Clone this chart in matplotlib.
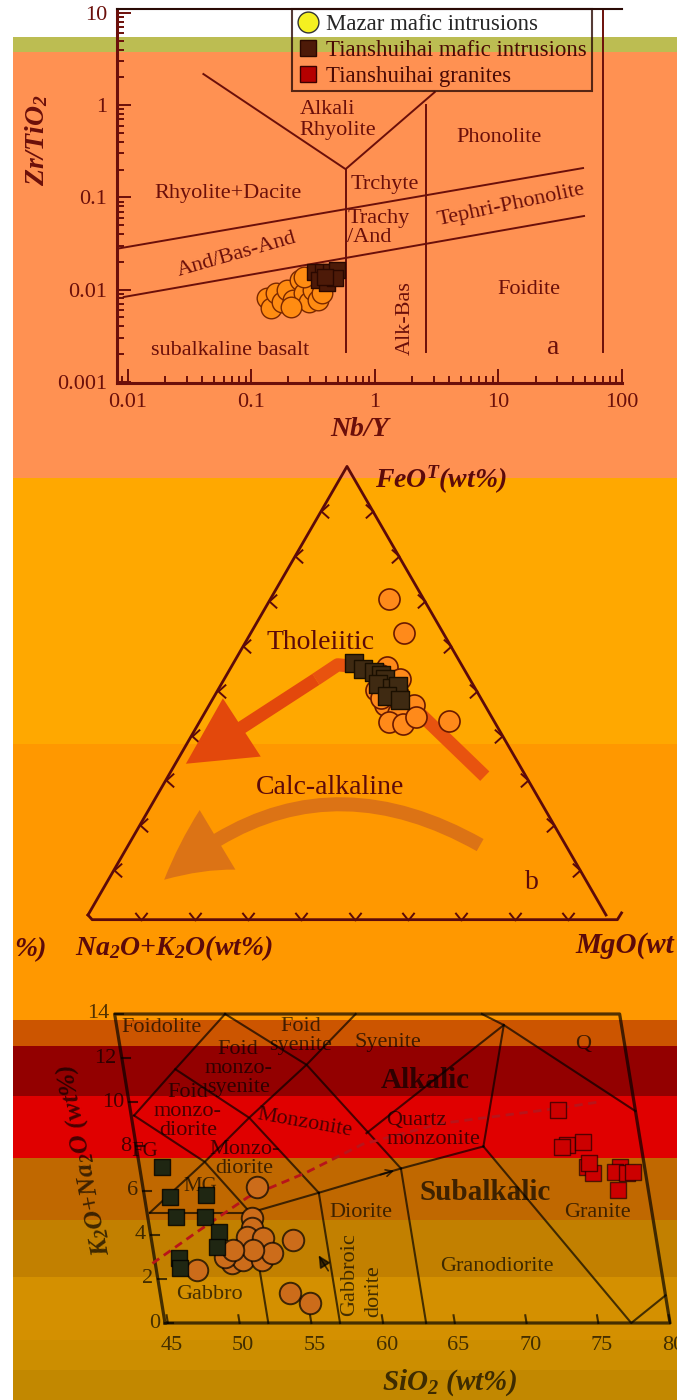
import numpy as np
import matplotlib
matplotlib.use("Agg")
import matplotlib.pyplot as plt
from matplotlib.lines import Line2D
from matplotlib.patches import Rectangle, FancyArrowPatch
from matplotlib.transforms import Affine2D
from matplotlib.path import Path

plt.rcParams['font.family'] = ['Liberation Serif', 'DejaVu Serif']
plt.rcParams['mathtext.fontset'] = 'custom'
for key in ('rm', 'it', 'bf'):
    plt.rcParams['mathtext.' + key] = 'Liberation Serif:italic:bold'

# ---------------- data ----------------
# (a) Winchester & Floyd  Zr/TiO2 vs Nb/Y
a_mazar_nby = [0.135, 0.145, 0.159, 0.178, 0.195, 0.218, 0.248, 0.267, 0.294, 0.316, 0.347, 0.374, 0.267, 0.21]
a_mazar_zr = [0.0081, 0.0063, 0.0092, 0.0073, 0.0099, 0.0077, 0.0127, 0.0092, 0.0073, 0.0099, 0.0077, 0.0092, 0.0137, 0.0065]
a_tsh_nby = [0.328, 0.38, 0.44, 0.49, 0.354, 0.41, 0.476, 0.395]
a_tsh_zr = [0.0155, 0.0155, 0.0155, 0.0163, 0.0127, 0.0118, 0.0133, 0.0137]
wf_lines = [
    ([0.0086, 48.4], [0.028, 0.2075]),
    ([0.0093, 49.3], [0.0083, 0.0627]),
    ([0.041, 0.58, 3.05], [2.17, 0.202, 1.38]),
    ([0.58, 0.58], [0.202, 0.0021]),
    ([2.6, 2.6], [1.0, 0.0021]),
    ([70, 70], [10.5, 0.0021]),
]

# (b) AFM ternary, fractions (Na2O+K2O, FeOT, MgO)
b_mazar_A = [0.067, 0.075, 0.087, 0.146, 0.167, 0.161, 0.135, 0.193, 0.155, 0.137, 0.193, 0.177, 0.204, 0.179, 0.146, 0.192]
b_mazar_F = [0.704, 0.629, 0.432, 0.553, 0.535, 0.515, 0.526, 0.502, 0.493, 0.468, 0.468, 0.450, 0.430, 0.426, 0.441, 0.484]
b_mazar_M = [0.229, 0.296, 0.481, 0.301, 0.298, 0.324, 0.339, 0.305, 0.352, 0.395, 0.339, 0.373, 0.366, 0.395, 0.413, 0.324]
b_tsh_A = [0.205, 0.195, 0.177, 0.167, 0.164, 0.182, 0.160, 0.147, 0.179, 0.158]
b_tsh_F = [0.562, 0.548, 0.542, 0.535, 0.526, 0.515, 0.506, 0.510, 0.488, 0.479]
b_tsh_M = [0.233, 0.257, 0.281, 0.298, 0.310, 0.303, 0.334, 0.343, 0.333, 0.363]

# (c) TAS (Middlemost 1994)
c_mazar_si = [52.75, 52.03, 51.93, 51.48, 52.58, 54.65, 50.14, 50.94, 52.26, 53.04, 49.72, 47.62, 53.84, 55.13, 51.75, 50.35]
c_mazar_alk = [6.15, 4.75, 4.30, 3.89, 3.85, 3.76, 2.71, 2.85, 2.85, 3.17, 2.99, 2.40, 1.36, 0.90, 3.30, 3.30]
c_tsh_si = [46.35, 46.57, 46.76, 49.10, 48.78, 49.58, 49.28, 46.50, 46.46]
c_tsh_alk = [7.06, 5.70, 4.80, 5.79, 4.80, 4.12, 3.44, 2.94, 2.49]
c_gr_si = [74.6, 74.83, 75.98, 74.45, 75.97, 76.32, 78.27, 77.86, 78.69, 79.1, 77.87, 76.2]
c_gr_alk = [9.64, 8.05, 8.19, 7.96, 7.06, 6.79, 7.06, 6.83, 6.79, 6.83, 6.02, 7.24]
tas_lines = [
    [(45, 5), (52, 5)],
    [(52, 0), (52, 5)],
    [(57, 0), (57, 5.9)],
    [(63, 0), (63, 7)],
    [(52, 5), (57, 5.9), (63, 7), (69, 8)],
    [(69, 8), (77.3, 0), (80, 1.25)],
    [(45, 5), (49.4, 7.3), (52, 5)],
    [(45, 9.4), (49.4, 7.3), (53, 9.3), (57, 5.9)],
    [(48.4, 11.5), (53, 9.3), (57.6, 11.7), (63, 7)],
    [(45, 9.4), (48.4, 11.5), (52.5, 14)],
    [(52.5, 14), (57.6, 11.7), (61.6, 14)],
    [(61, 8.6), (71.8, 13.5)],
    [(69, 8), (71.8, 13.5), (70.4, 14)],
    [(71.8, 13.5), (80, 9.6)],
]
ib_si = [44.6, 48, 52, 56.3, 60.6, 66.4, 74.3, 77.4]
ib_alk = [2.7, 4.1, 5.7, 6.8, 8.1, 9.05, 9.7, 10.0]

# ---------------- figure ----------------
W, H = 691, 1400
fig = plt.figure(figsize=(W / 100, H / 100), dpi=100)


def fx(px):
    return px / W


def fy(py):
    return 1 - py / H


band_edges = [0, 37, 52, 478, 744, 1020, 1046, 1096, 1158, 1220, 1277, 1340, 1370, 1400]
band_colors = ['#ffffff', '#bcbd52', '#ff9152', '#ffa800', '#ff9800', '#cc5500', '#930000',
               '#e00000', '#c06800', '#c28000', '#d49000', '#cc8e00', '#c28800']
for top, bot, col in zip(band_edges[:-1], band_edges[1:], band_colors):
    fig.add_artist(Rectangle((fx(13), fy(bot)), fx(677) - fx(13), (bot - top) / H,
                             transform=fig.transFigure, color=col, lw=0, zorder=-10))

RED = '#6b0f0a'
bi = dict(fontweight='bold', style='italic')

# ---------------- panel a ----------------
axa = fig.add_axes([fx(117), fy(383), fx(622) - fx(117), (383 - 9) / H])
axa.set_facecolor('none')
axa.set_xscale('log')
axa.set_yscale('log')
for xs, ys in wf_lines:
    axa.plot(xs, ys, color=RED, lw=1.4, zorder=2)
axa.scatter(a_mazar_nby, a_mazar_zr, s=220, marker='o', fc='#ff8c12', ec='#7a2800', lw=1.0, zorder=5)
axa.scatter(a_tsh_nby, a_tsh_zr, s=130, marker='s', fc='#4d1a08', ec='#2a0800', lw=1.0, zorder=6)
axa.set_xlim(0.0082, 96.4)
axa.set_ylim(0.00097, 11.0)
axa.set_xticks([0.01, 0.1, 1, 10, 100])
axa.set_xticklabels(['0.01', '0.1', '1', '10', '100'])
axa.set_yticks([0.001, 0.01, 0.1, 1, 10])
axa.set_yticklabels(['0.001', '0.01', '0.1', '1', '10'])
axa.tick_params(which='both', direction='in', colors=RED, labelsize=16, width=1.4,
                top=False, right=False)
axa.tick_params(which='major', length=10, pad=7)
axa.tick_params(which='minor', length=5)
axa.spines['right'].set_visible(False)
for sp in ('left', 'bottom'):
    axa.spines[sp].set_color(RED)
    axa.spines[sp].set_linewidth(2.2)
axa.spines['top'].set_color('#2a0a05')
axa.spines['top'].set_linewidth(1.5)

ta = dict(color=RED, fontsize=16, ha='center', va='center')
axa.text(0.245, 0.69, 'Alkali\nRhyolite', ha='left', va='center', color=RED, fontsize=16, linespacing=1.1)
axa.text(10.2, 0.44, 'Phonolite', **ta)
axa.text(0.0653, 0.111, 'Rhyolite+Dacite', **ta)
axa.text(1.2, 0.136, 'Trchyte', **ta)
axa.text(0.60, 0.046, 'Trachy\n/And', ha='left', va='center', color=RED, fontsize=16, linespacing=1.0)
axa.text(12.7, 0.0824, 'Tephri-Phonolite', rotation=12, **ta)
axa.text(0.0757, 0.0237, 'And/Bas-And', rotation=16, **ta)
axa.text(17.5, 0.0099, 'Foidite', **ta)
axa.text(1.78, 0.0049, 'Alk-Bas', rotation=90, **ta)
axa.text(0.0677, 0.0022, 'subalkaline basalt', **ta)
axa.text(27.8, 0.00238, 'a', color=RED, fontsize=20, ha='center', va='center')
fig.text(fx(360), fy(430), 'Nb/Y', fontsize=20, color=RED, ha='center', va='center', **bi)
fig.text(fx(37), fy(140), 'Zr/TiO$_2$', fontsize=20, color=RED, rotation=90, ha='center', va='center', **bi)

handles = [
    Line2D([], [], ls='none', marker='o', ms=15, mfc='#f5f020', mec='#333333', mew=1.0),
    Line2D([], [], ls='none', marker='s', ms=11, mfc='#4d1a08', mec='#2a0800', mew=1.0),
    Line2D([], [], ls='none', marker='s', ms=11, mfc='#b50000', mec='#3a0000', mew=1.0),
]
labels = ['Mazar mafic intrusions', 'Tianshuihai mafic intrusions', 'Tianshuihai granites']
leg = fig.legend(handles, labels, loc='upper left', bbox_to_anchor=(fx(292), fy(9)),
                 bbox_transform=fig.transFigure, fontsize=16.5, frameon=True, fancybox=False,
                 edgecolor='#2a0a05', facecolor='none', borderpad=0.2, labelspacing=0.22,
                 handletextpad=0.3, handlelength=1.0, borderaxespad=0)
leg.get_frame().set_linewidth(1.5)
for t, c in zip(leg.get_texts(), ['#262626', '#4a0a05', '#4a0a05']):
    t.set_color(c)

# ---------------- panel b ----------------
TRI = '#5c0a0a'
h3 = np.sqrt(3) / 2
axb = fig.add_axes([fx(88), fy(915), 518 / W, 518 * h3 / H])
axb.set_xlim(0, 1)
axb.set_ylim(0, h3)
axb.axis('off')


def tern(a, f, m):
    a, f, m = np.asarray(a), np.asarray(f), np.asarray(m)
    s = a + f + m
    return m / s + f / s / 2, f / s * h3


axb.plot([0, 0.5, 1], [0, h3, 0], color=TRI, lw=2.0, clip_on=False)
base_end = 1.03
axb.plot([0.0, 0.008, base_end - 0.008, base_end], [0.0, -0.009, -0.009, 0.004],
         color=TRI, lw=2.0, clip_on=False)
fr = np.arange(1, 10) / 10
chev_l = Path([(1, 0.9), (0, 0), (1, -0.9)], [Path.MOVETO, Path.LINETO, Path.LINETO])
chev_r = Path([(-1, 0.9), (0, 0), (-1, -0.9)], [Path.MOVETO, Path.LINETO, Path.LINETO])
chev_b = Path([(-0.8, 1), (0, 0), (0.8, 1)], [Path.MOVETO, Path.LINETO, Path.LINETO])
mk = dict(ls='none', ms=11, mfc='none', mec=TRI, mew=1.4, clip_on=False)
axb.plot(fr / 2, fr * h3, marker=chev_l, **mk)
axb.plot(1 - fr / 2, fr * h3, marker=chev_r, **mk)
axb.plot(fr * base_end, np.full(9, -0.009), marker=chev_b, **mk)

thol_x = [0.766, 0.624, 0.524, 0.482, 0.440]
thol_y = [0.268, 0.405, 0.479, 0.483, 0.455]
axb.plot(thol_x, thol_y, color='#e8530f', lw=9.5, solid_joinstyle='round', solid_capstyle='butt', zorder=2)
axb.add_patch(FancyArrowPatch((0.440, 0.455), (0.189, 0.292),
                              arrowstyle='simple,head_length=2.4,head_width=2.5,tail_width=0.47',
                              mutation_scale=20, color='#e3480c', lw=0, shrinkA=0, shrinkB=0, zorder=2))
axb.add_patch(FancyArrowPatch((0.757, 0.135), (0.147, 0.068), connectionstyle='arc3,rad=0.36',
                              arrowstyle='simple,head_length=2.4,head_width=2.5,tail_width=0.5',
                              mutation_scale=20, color='#dc7315', lw=0, shrinkA=0, shrinkB=0, zorder=2))

mx, my = tern(b_mazar_A, b_mazar_F, b_mazar_M)
axb.scatter(mx, my, s=230, marker='o', fc='#ff8a1a', ec='#6b1a00', lw=1.2, zorder=5)
sx, sy = tern(b_tsh_A, b_tsh_F, b_tsh_M)
axb.scatter(sx, sy, s=170, marker='s', fc='#3f2a12', ec='#1a0f00', lw=1.0, zorder=6)

axb.text(0.448, 0.527, 'Tholeiitic', color=TRI, fontsize=20, ha='center', va='center')
axb.text(0.467, 0.247, 'Calc-alkaline', color=TRI, fontsize=20, ha='center', va='center')
axb.text(0.857, 0.062, 'b', color=TRI, fontsize=20, ha='center', va='center')
axb.text(0.554, 0.840, 'FeO$^{T}$(wt%)', color=TRI, fontsize=20, ha='left', va='center', **bi)
axb.text(-0.025, -0.064, 'Na$_2$O+K$_2$O(wt%)', color=TRI, fontsize=20, ha='left', va='center', **bi)
axb.text(0.940, -0.058, 'MgO(wt', color=TRI, fontsize=21, ha='left', va='center', **bi)
fig.text(fx(14), fy(950), '%)', color=TRI, fontsize=20, ha='left', va='center', **bi)

# ---------------- panel c (sheared) ----------------
axc = fig.add_axes([fx(165), 77 / H, fx(670) - fx(165), 309 / H])
axc.axis('off')
axc.set_xlim(44.8, 80)
axc.set_ylim(0, 14)
axc.set_autoscale_on(False)
k = 0.163
shear = Affine2D(np.array([[1, -k, k * 77], [0, 1, 0], [0, 0, 1]]))
tc = axc.transData + shear
LC = (0, 0, 0, 0.68)
ln = dict(transform=tc, clip_on=False)

axc.plot([44.8, 80, 80, 44.8, 44.8], [0, 0, 14, 14, 0], color=LC, lw=2.3, **ln)
for xt in range(45, 81, 5):
    axc.plot([xt, xt], [0, 0.35], color=LC, lw=1.5, **ln)
    axc.text(xt, -1.0, str(xt), color=LC, fontsize=16, ha='center', va='center', **ln)
for yt in range(0, 15, 2):
    axc.plot([44.8, 45.35], [yt, yt], color=LC, lw=1.5, **ln)
    axc.text(44.45, yt, str(yt), color=LC, fontsize=16, ha='right', va='center', **ln)
for seg in tas_lines:
    xs, ys = zip(*seg)
    axc.plot(xs, ys, color=LC, lw=1.5, **ln)
axc.plot(ib_si, ib_alk, color='#b8141a', lw=2.0, ls=(0, (3, 2)), **ln)
axc.annotate('', xy=(56.2, 3.17), xytext=(56.85, 2.26), xycoords=tc, textcoords=tc,
             arrowprops=dict(arrowstyle='-|>', color=LC, lw=1.2, mutation_scale=18))
axc.annotate('', xy=(62.7, 6.94), xytext=(61.3, 6.68), xycoords=tc, textcoords=tc,
             arrowprops=dict(arrowstyle='->', color=LC, lw=1.2, mutation_scale=12))

axc.scatter(c_mazar_si, c_mazar_alk, s=240, marker='o', fc='#cc6c1a', ec=(0, 0, 0, 0.7), lw=1.4, zorder=5, **ln)
axc.scatter(c_tsh_si, c_tsh_alk, s=135, marker='s', fc='#1f2612', ec=(0, 0, 0, 0.8), lw=1.0, zorder=6, **ln)
axc.scatter(c_gr_si, c_gr_alk, s=135, marker='s', fc='#cc0000', ec=(0, 0, 0, 0.6), lw=1.0, zorder=6, **ln)

tl = dict(color=LC, fontsize=16, ha='center', va='center', linespacing=1.0, **ln)
axc.text(47.94, 13.4, 'Foidolite', **tl)
axc.text(57.5, 13.0, 'Foid\nsyenite', **tl)
axc.text(63.5, 12.7, 'Syenite', **tl)
axc.text(52.8, 11.55, 'Foid\nmonzo-\nsyenite', **tl)
axc.text(48.79, 9.56, 'Foid\nmonzo-\ndiorite', **tl)
axc.text(56.8, 9.06, 'Monzonite', rotation=-10, **tl)
axc.text(62.4, 8.74, 'Quartz\nmonzonite', color=LC, fontsize=16, ha='left', va='center', linespacing=1.0, **ln)
axc.text(52.2, 7.45, 'Monzo-\ndiorite', **tl)
axc.text(45.33, 7.75, 'FG', color=LC, fontsize=15, ha='center', va='center', **ln)
axc.text(48.8, 6.2, 'MG', color=LC, fontsize=15, ha='center', va='center', **ln)
axc.text(59.7, 5.0, 'Diorite', **tl)
axc.text(76.2, 5.0, 'Granite', **tl)
axc.text(68.6, 2.54, 'Granodiorite', **tl)
axc.text(48.25, 1.27, 'Gabbro', **tl)
axc.text(58.2, 2.17, 'Gabbroic', rotation=90, **tl)
axc.text(59.7, 1.45, 'dorite', rotation=90, **tl)
axc.text(77.1, 12.6, 'Q', **tl)
axc.text(65.7, 11.0, 'Alkalic', color=LC, fontsize=21, fontweight='bold', ha='center', va='center', **ln)
axc.text(68.6, 5.93, 'Subalkalic', color=LC, fontsize=21, fontweight='bold', ha='center', va='center', **ln)

fig.text(fx(84), fy(1160), 'K$_2$O+Na$_2$O (wt%)', color=LC, fontsize=19, rotation=101,
         ha='center', va='center', rotation_mode='anchor', **bi)
fig.text(fx(450), fy(1383), 'SiO$_2$ (wt%)', color=LC, fontsize=21, ha='center', va='center', **bi)

# white strip on the right edge
fig.add_artist(Rectangle((fx(677), 0), 1 - fx(677), 1, transform=fig.transFigure,
                         color='white', lw=0, zorder=100))

fig.savefig('out.png', dpi=100)
